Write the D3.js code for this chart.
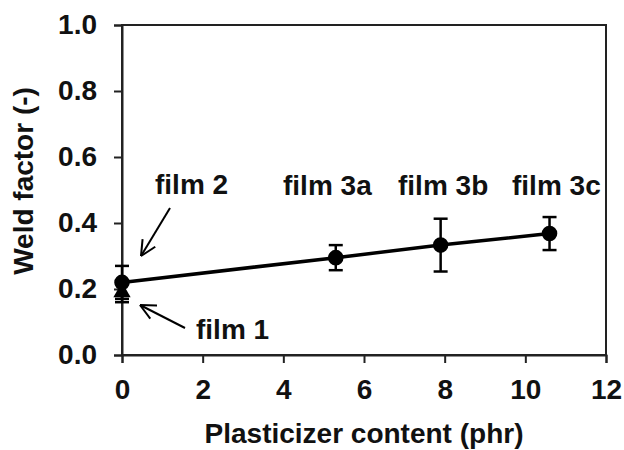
<!DOCTYPE html>
<html>
<head>
<meta charset="utf-8">
<script src="https://cdn.jsdelivr.net/npm/d3@7"></script>
<style>
  body { margin: 0; background: #fff; }
  svg text { font-family: "Liberation Sans", Arial, sans-serif; font-weight: bold; fill: #111; }
</style>
</head>
<body>
<div id="chart"><svg width="624" height="450"></svg></div>
<script>
// data
const films = ["film 1", "film 2", "film 3a", "film 3b", "film 3c"];
const plasticizer = [0, 0, 5.3, 7.9, 10.6];
const weldFactor = [0.19, 0.22, 0.295, 0.333, 0.368];
const weldErr = [0.03, 0.05, 0.038, 0.08, 0.05];
const markers = ["triangle", "circle", "circle", "circle", "circle"];
const xTicks = [0, 2, 4, 6, 8, 10, 12];
const yTicks = [0.0, 0.2, 0.4, 0.6, 0.8, 1.0];

const svg = d3.select("#chart svg");
const margin = { top: 25, right: 18, bottom: 95, left: 122 };
const width = 624 - margin.left - margin.right;
const height = 450 - margin.top - margin.bottom;
const fs = 28;

const g = svg.append("g").attr("transform", `translate(${margin.left},${margin.top})`);

const x = d3.scaleLinear().domain([0, 12]).range([0, width]);
const y = d3.scaleLinear().domain([0, 1]).range([height, 0]);

// frame
g.append("rect")
  .attr("width", width)
  .attr("height", height)
  .attr("fill", "none")
  .attr("stroke", "#222")
  .attr("stroke-width", 2);

const xAxis = g.append("g")
  .attr("transform", `translate(0,${height})`)
  .call(d3.axisBottom(x).tickValues(xTicks).tickSize(8).tickPadding(16).tickFormat(d3.format("d")));
const yAxis = g.append("g")
  .call(d3.axisLeft(y).tickValues(yTicks).tickSize(8).tickPadding(17).tickFormat(d3.format(".1f")));

[xAxis, yAxis].forEach((a) => {
  a.select(".domain").attr("stroke", "#222").attr("stroke-width", 2);
  a.selectAll(".tick line").attr("stroke", "#222").attr("stroke-width", 2);
  a.selectAll(".tick text").attr("font-size", fs).attr("fill", "#111");
});

// axis titles
svg.append("text")
  .attr("x", margin.left + width / 2)
  .attr("y", 443)
  .attr("text-anchor", "middle")
  .attr("font-size", fs)
  .text("Plasticizer content (phr)");

svg.append("text")
  .attr("transform", "translate(33,181) rotate(-90)")
  .attr("text-anchor", "middle")
  .attr("font-size", fs)
  .text("Weld factor (-)");

const pts = films.map((f, i) => ({ name: f, x: plasticizer[i], y: weldFactor[i], e: weldErr[i], m: markers[i] }));

// trend line through the circle points
const line = d3.line().x((d) => x(d.x)).y((d) => y(d.y));
g.append("path")
  .datum(pts.filter((d) => d.m === "circle"))
  .attr("d", line)
  .attr("fill", "none")
  .attr("stroke", "#000")
  .attr("stroke-width", 3.5);

// error bars
const eb = g.selectAll(".err").data(pts).enter().append("g").attr("class", "err");
eb.append("line")
  .attr("x1", (d) => x(d.x)).attr("x2", (d) => x(d.x))
  .attr("y1", (d) => y(d.y - d.e)).attr("y2", (d) => y(d.y + d.e))
  .attr("stroke", "#000").attr("stroke-width", 2.5);
[-1, 1].forEach((s) => {
  eb.append("line")
    .attr("x1", (d) => x(d.x) - 7).attr("x2", (d) => x(d.x) + 7)
    .attr("y1", (d) => y(d.y + s * d.e)).attr("y2", (d) => y(d.y + s * d.e))
    .attr("stroke", "#000").attr("stroke-width", 2.5);
});

// markers
g.selectAll(".pt")
  .data(pts)
  .enter()
  .append("path")
  .attr("class", "pt")
  .attr("transform", (d) => `translate(${x(d.x)},${y(d.y)})`)
  .attr("d", (d) => d3.symbol().type(d.m === "circle" ? d3.symbolCircle : d3.symbolTriangle).size(d.m === "circle" ? 190 : 130)())
  .attr("fill", "#000");

// labels
const labelPos = {
  "film 1": [196, 339],
  "film 2": [155, 194],
  "film 3a": [283, 195],
  "film 3b": [398, 195],
  "film 3c": [512, 195],
};
films.forEach((f) => {
  svg.append("text")
    .attr("x", labelPos[f][0])
    .attr("y", labelPos[f][1])
    .attr("font-size", fs)
    .text(f);
});

// arrows
function arrow(x1, y1, x2, y2) {
  const ang = Math.atan2(y2 - y1, x2 - x1);
  const len = 17, spread = 0.45;
  svg.append("line").attr("x1", x1).attr("y1", y1).attr("x2", x2).attr("y2", y2)
    .attr("stroke", "#000").attr("stroke-width", 2);
  [-spread, spread].forEach((s) => {
    svg.append("line")
      .attr("x1", x2).attr("y1", y2)
      .attr("x2", x2 - len * Math.cos(ang + s))
      .attr("y2", y2 - len * Math.sin(ang + s))
      .attr("stroke", "#000").attr("stroke-width", 2);
  });
}
arrow(170, 208, 141, 256);
arrow(185, 328, 140, 305);
</script>
</body>
</html>
